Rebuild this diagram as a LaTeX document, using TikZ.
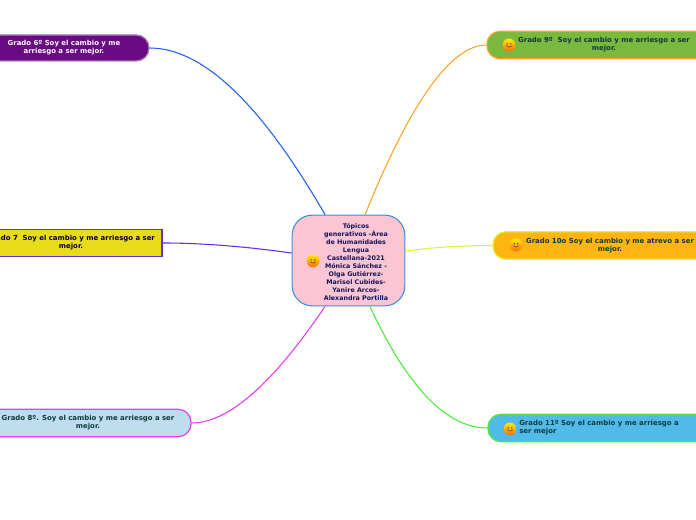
\documentclass[tikz,border=0pt]{standalone}
\usepackage{xcolor}
\usepackage{fontspec}
\setmainfont{DejaVu Sans}
\usetikzlibrary{arrows.meta,calc,positioning}

\definecolor{hubfill}{HTML}{FBC5D4}
\definecolor{hubline}{HTML}{3D8FD6}
\definecolor{hubtext}{HTML}{14145A}
\definecolor{darktext}{HTML}{0C3A3A}
\definecolor{sixfill}{HTML}{6A0A85}
\definecolor{sixline}{HTML}{A77FC0}
\definecolor{sixedge}{HTML}{2060F0}
\definecolor{sevenfill}{HTML}{E8DC1A}
\definecolor{sevenline}{HTML}{6A2BE0}
\definecolor{eightfill}{HTML}{C0DCEF}
\definecolor{eightline}{HTML}{E63CEC}
\definecolor{ninefill}{HTML}{7AB83E}
\definecolor{nineline}{HTML}{F5A623}
\definecolor{tenfill}{HTML}{FFB612}
\definecolor{tenline}{HTML}{DFF23A}
\definecolor{elevenfill}{HTML}{50BBEA}
\definecolor{elevenline}{HTML}{4EE83C}

\begin{document}
\begin{tikzpicture}[
  x=0.75pt,
  y=0.75pt,
  every node/.style={
    font=\fontsize{5.2pt}{6pt}\selectfont\bfseries,
    align=center,
    inner sep=0pt
  },
  topic/.style={
    draw,
    line width=0.9pt,
    minimum height=20.5pt,
    rounded corners=9.5pt,
    execute at begin node={\rule{0pt}{7pt}}
  },
  smile/.style={
    circle,
    minimum size=9.6pt,
    top color=yellow!85!orange,
    bottom color=orange!85!red,
    path picture={
      \fill[black!70] ([shift={(-1.3pt,0.9pt)}]path picture bounding box.center) circle (0.55pt);
      \fill[black!70] ([shift={(1.3pt,0.9pt)}]path picture bounding box.center) circle (0.55pt);
      \draw[black!65,line width=0.5pt] ([shift={(-2.4pt,-0.5pt)}]path picture bounding box.center)
        to[bend right=55] ([shift={(2.4pt,-0.5pt)}]path picture bounding box.center);
    }
  },
  branch/.style={
    line width=0.8pt
  }
]
\clip (0,0) rectangle (696,520);

% Nodo central
\node[draw=hubline,fill=hubfill,line width=0.8pt,rounded corners=15pt,
  minimum width=84.5pt,minimum height=68pt] (hub) at (348.5,259.5) {};
\node[text=hubtext,font=\fontsize{4.75pt}{6pt}\selectfont\bfseries] (hublabel) at (356,258)
  {Tópicos\\generativos -Área\\de Humanidades\\Lengua\\Castellana-2021\\Mónica Sánchez -\\Olga Gutiérrez-\\Marisol Cubides-\\Yanire Arcos-\\Alexandra Portilla};
\node[smile] (hubsmile) at (313,259) {};

% Grados de la izquierda
\node[topic,draw=sixline,fill=sixfill,text=white,minimum width=127.5pt,minimum height=19.5pt] (six) at (64,472)
  {Grado 6º Soy el cambio y me\\arriesgo a ser mejor.};

\node[topic,draw=sevenline,fill=sevenfill,text=black!85!blue,sharp corners,minimum width=136.5pt] (seven) at (71,277)
  {Grado 7\ \ Soy el cambio y me arriesgo a ser\\mejor.};

\node[topic,draw=eightline,fill=eightfill,text=darktext,minimum width=154.5pt] (eight) at (88,97)
  {Grado 8º. Soy el cambio y me arriesgo a ser\\mejor.};

% Grados de la derecha
\node[topic,draw=nineline,fill=ninefill,text=darktext,minimum width=175.5pt] (nine) at (604,475)
  {Grado 9º\ \ Soy el cambio y me arriesgo a ser\\mejor.};
\node[smile] (ninesmile) at (509,475) {};

\node[topic,draw=tenline,fill=tenfill,text=darktext,minimum width=175.5pt] (ten) at (610,274.5)
  {Grado 10o Soy el cambio y me atrevo a ser\\mejor.};
\node[smile] (tensmile) at (516,275) {};

\node[topic,draw=elevenline,fill=elevenfill,text=darktext,align=left,minimum width=166.5pt] (eleven) at (599,92)
  {Grado 11º Soy el cambio y me arriesgo a\\ser mejor};
\node[smile] (elevensmile) at (510,91) {};

% Ramas
\draw[branch,sixedge] ([xshift=-17.6pt]hub.north)
  to[out=120,in=0,out looseness=1.36,in looseness=0.56] (six.east);
\draw[branch,sevenline] ([yshift=5.6pt]hub.west)
  to[out=172,in=0,out looseness=0.94,in looseness=0.77] (seven.east);
\draw[branch,eightline] ([xshift=-17.6pt]hub.south)
  to[out=236,in=0,out looseness=1.35,in looseness=0.53] (eight.east);
\draw[branch,nineline] ([xshift=12.4pt]hub.north)
  to[out=68,in=180,out looseness=1.5,in looseness=0.43] (nine.west);
\draw[branch,tenline] ([yshift=7pt]hub.east)
  to[out=8,in=180,out looseness=0.85,in looseness=0.87] (ten.west);
\draw[branch,elevenline] ([xshift=16pt]hub.south)
  to[out=-65,in=180,out looseness=1.36,in looseness=0.61] (eleven.west);

\end{tikzpicture}
\end{document}
